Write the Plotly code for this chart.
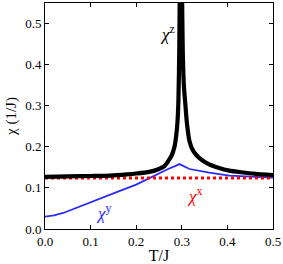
import plotly.graph_objects as go

# chi^z (black, diverging near T/J = 0.3)
t_z = [0.0, 0.05, 0.1, 0.142, 0.18, 0.2, 0.229, 0.25, 0.262, 0.277, 0.284, 0.2875,
       0.2905, 0.2926, 0.2945, 0.2955, 0.2965, 0.298, 0.2995, 0.3005, 0.302, 0.3045,
       0.308, 0.311, 0.317, 0.325, 0.338, 0.36, 0.38, 0.404, 0.43, 0.462, 0.5]
chi_z = [0.127, 0.128, 0.129, 0.130, 0.133, 0.135, 0.139, 0.146, 0.153, 0.177, 0.200, 0.225,
         0.26, 0.313, 0.44, 0.58, 0.72, 0.90, 0.72, 0.58, 0.44, 0.35,
         0.30, 0.26, 0.213, 0.190, 0.173, 0.157, 0.149, 0.142, 0.138, 0.134, 0.131]

# chi^y (blue)
t_y = [0.0, 0.02, 0.04, 0.076, 0.12, 0.16, 0.2, 0.215, 0.24, 0.251, 0.27, 0.285, 0.295,
       0.317, 0.34, 0.36, 0.404, 0.462, 0.5]
chi_y = [0.030, 0.033, 0.039, 0.055, 0.073, 0.091, 0.108, 0.116, 0.130, 0.137, 0.146, 0.153, 0.158,
         0.146, 0.141, 0.137, 0.130, 0.126, 0.125]

# chi^x (red, constant)
t_x = [0.0, 0.1, 0.2, 0.3, 0.4, 0.5]
chi_x = [0.124, 0.124, 0.124, 0.124, 0.124, 0.124]

x_ticks = [0.0, 0.1, 0.2, 0.3, 0.4, 0.5]
y_ticks = [0.0, 0.1, 0.2, 0.3, 0.4, 0.5]

FONT = "Liberation Serif, Times New Roman, serif"

fig = go.Figure()
fig.add_trace(go.Scatter(x=t_y, y=chi_y, mode="lines",
                         line=dict(color="#2a2aff", width=1.8), showlegend=False))
fig.add_trace(go.Scatter(x=t_x, y=chi_x, mode="lines",
                         line=dict(color="#ff0000", width=3, dash="dot"), showlegend=False))
fig.add_trace(go.Scatter(x=t_z, y=chi_z, mode="lines",
                         line=dict(color="black", width=4.2, shape="spline", smoothing=0.5),
                         showlegend=False))

fig.add_annotation(x=0.2686, y=0.4765, text="<i>χ</i><sup>z</sup>", showarrow=False,
                   font=dict(family=FONT, size=17, color="black"))
fig.add_annotation(x=0.129, y=0.041, text="<i>χ</i><sup>y</sup>", showarrow=False,
                   font=dict(family=FONT, size=17, color="#2a2aff"))
fig.add_annotation(x=0.3275, y=0.082, text="<i>χ</i><sup>x</sup>", showarrow=False,
                   font=dict(family=FONT, size=17, color="#ff0000"))

axis_common = dict(showgrid=False, zeroline=False, showline=True, linecolor="black",
                   linewidth=1, mirror="ticks", ticks="inside", ticklen=4,
                   tickcolor="black", tickfont=dict(family=FONT, size=13, color="black"))

fig.update_xaxes(range=[0, 0.5], tickvals=x_ticks, ticktext=[f"{v:.1f}" for v in x_ticks],
                 title=dict(text="T/J", font=dict(family=FONT, size=16, color="black"),
                            standoff=2),
                 **axis_common)
fig.update_yaxes(range=[0, 0.55], tickvals=y_ticks, ticktext=[f"{v:.1f}" for v in y_ticks],
                 title=dict(text="χ (1/J)", font=dict(family=FONT, size=15, color="black"),
                            standoff=4),
                 **axis_common)

fig.update_layout(width=283, height=264, margin=dict(l=45, r=9, t=2, b=34),
                  plot_bgcolor="white", paper_bgcolor="white",
                  font=dict(family=FONT, color="black"))

fig.write_html("out.html", config={"displayModeBar": False},
               post_script="document.body.style.margin='0';document.body.style.padding='0';")
